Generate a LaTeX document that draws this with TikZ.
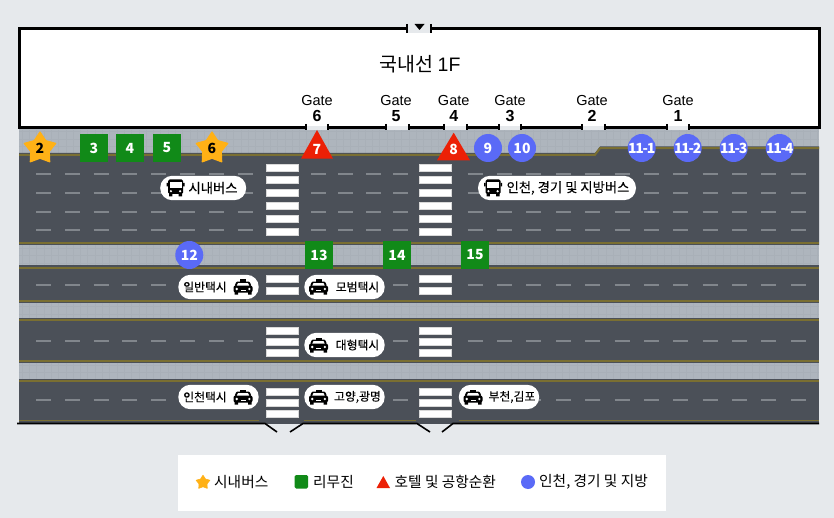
\documentclass[tikz,border=0pt]{standalone}
\usepackage{fontspec}
\setmainfont{Noto Sans CJK KR}
\newfontfamily\medfont[FakeBold=0.25]{Noto Sans CJK KR}
\newfontfamily\latinfont{Liberation Sans}
\usetikzlibrary{shapes.geometric}
\usetikzlibrary{positioning}
\definecolor{pagegray}{HTML}{E6E9EC}
\definecolor{pavegray}{HTML}{AEB5BD}
\definecolor{pavegrid}{HTML}{A9B0B8}
\definecolor{roadgray}{HTML}{4B5058}
\definecolor{dashgray}{HTML}{81868C}
\definecolor{kerbolive}{HTML}{7A6F32}
\definecolor{stopstar}{HTML}{FFB116}
\definecolor{stopgreen}{HTML}{118A18}
\definecolor{stopred}{HTML}{EC2006}
\definecolor{stopblue}{HTML}{5A6AF7}
\tikzstyle{every path}=[line join=miter]
\tikzstyle{wall}=[line width=3pt,black]
\tikzstyle{kerb}=[line width=2pt,kerbolive]
\tikzstyle{lanedash}=[line width=2pt,dashgray]
\tikzstyle{stripe}=[fill=white,draw=white!85!black,line width=0.3pt]
\tikzstyle{gatetext}=[inner sep=0pt,font=\latinfont\fontsize{14.5}{15}\selectfont]
\tikzstyle{gatenum}=[inner sep=0pt,font=\latinfont\bfseries\fontsize{16}{16}\selectfont]
\tikzstyle{stopnum}=[inner sep=0pt,text=white,font=\fontsize{14}{14}\selectfont\bfseries]
\tikzstyle{stopsq}=[stopnum,fill=stopgreen,minimum size=28pt]
\tikzstyle{stopcirc}=[circle,inner sep=0pt,fill=stopblue,minimum size=28pt]
\tikzstyle{stopst}=[inner sep=0pt,star,star points=5,star point ratio=1.7,fill=stopstar,draw=stopstar,line width=1.2pt,line join=round,minimum size=33pt]
\tikzstyle{pill}=[fill=white,rounded corners=12pt,minimum height=24.4pt,inner sep=0pt]
\tikzstyle{pilltext}=[inner sep=0pt,font=\medfont\fontsize{13.3}{14}\selectfont]
\tikzstyle{taxitext}=[inner sep=0pt,font=\medfont\fontsize{11.8}{13}\selectfont]
\tikzstyle{keytext}=[inner sep=0pt,font=\fontsize{14.7}{15}\selectfont,anchor=west]
\tikzset{
  busicon/.pic={
    \fill[rounded corners=1.5pt] (-7.5,-8.5) rectangle (7.5,6);
    \fill (-6.5,5) rectangle (-3.2,8.5) (3.2,5) rectangle (6.5,8.5);
    \fill[white] (-6,-5.5) rectangle (6,0.5);
    \fill[white] (-4.6,3.2) circle (1.2) (4.6,3.2) circle (1.2);
    \fill (-9,-5) rectangle (-7.5,-1.5) (7.5,-5) rectangle (9,-1.5);
  },
  taxiicon/.pic={
    \fill (-3,-7.5) rectangle (3,-5);
    \fill[rounded corners=1pt] (-6.5,-5.5) -- (6.5,-5.5) -- (8.5,-1) -- (-8.5,-1) -- cycle;
    \fill[white] (-5,-4) -- (5,-4) -- (6.3,-1) -- (-6.3,-1) -- cycle;
    \fill[rounded corners=2pt] (-9.5,-1.5) rectangle (9.5,5.5);
    \fill (-8.5,5) rectangle (-5,7.5) (5,5) rectangle (8.5,7.5);
    \fill[white] (-6.3,2) circle (1.3) (6.3,2) circle (1.3);
    \fill[white] (-2.5,3.2) rectangle (2.5,4);
  }
}

\begin{document}
\begin{tikzpicture}[x=1pt,y=-1pt]
  \fill[pagegray] (0,0) rectangle (834,518);
  \useasboundingbox (0,0) rectangle (834,518);

  % building
  \fill[white] (19,28.5) rectangle (819,128);
  \fill[pagegray] (407,24) rectangle (431,33);
  \fill[pavegray] (19,129) rectangle (819,424);
  \draw[pavegrid,line width=0.3pt,xstep=7.3pt,ystep=7.3pt] (19,130) grid (819,424);
  \foreach \a/\b in {306/328,386/409,444/467,499/521,582/605,667/689}
    \fill[pagegray] (\a,126.5) rectangle (\b,130);
  \draw[wall] (407,28.5)--(19,28.5)--(19,128)--(306,128)
    (328,128)--(386,128) (409,128)--(444,128) (467,128)--(499,128)
    (521,128)--(582,128) (605,128)--(667,128) (689,128)--(819,128)--(819,28.5)--(431,28.5);
  \foreach \x in {306,328,386,409,444,467,499,521,582,605,667,689}
    \draw[black,line width=1.8pt] (\x,124) -- (\x,130);
  \foreach \x in {407,431}
    \draw[black,line width=1.8pt] (\x,24) -- (\x,33);
  \fill[black] (414.5,24) -- (424.5,24) -- (419.5,30) -- cycle;
  \node[inner sep=0pt,font=\fontsize{19.5}{20}\selectfont] (title) at (420,64) {국내선 {\latinfont 1F}};
  \foreach \x/\n in {317/6,396/5,453.7/4,510/3,592/2,678/1}{
    \node[gatetext] (gatelabel\n) at (\x,100.5) {Gate};
    \node[gatenum] (gatenum\n) at (\x,116) {\n};
  }

  % roads
  \fill[roadgray] (19,153) -- (595,153) -- (600,146.5) -- (819,146.5) -- (819,245) -- (19,245) -- cycle;
  \fill[roadgray] (19,265.5) rectangle (819,303);
  \fill[roadgray] (19,318) rectangle (819,363);
  \fill[roadgray] (19,378.5) rectangle (819,424);
  \draw[kerb] (19,154.8) -- (595,154.8) -- (600,148.2) -- (819,148.2);
  \foreach \y in {243,268,301,320,361,381}
    \draw[kerb] (19,\y) -- (819,\y);
  \draw[kerbolive,line width=1.2pt] (19,420.5) -- (259,420.5) (304,420.5) -- (416,420.5) (459,420.5) -- (819,420.5);
  \draw[black,line width=1.6pt] (17,423.5) -- (265,423.5) -- (277,432)
    (290,432) -- (303,423.5) -- (417,423.5) -- (430,432)
    (442,432) -- (453,423.5) -- (819,423.5);

  % lane dashes
  \foreach \y in {174.5,193,212,230.5,284.5,341,400}{
    \foreach \i in {0,...,7}
      \draw[lanedash] ({36+28.8*\i},\y) -- ++(15,0);
    \foreach \i in {0,...,11}
      \draw[lanedash] ({467.7+29.37*\i},\y) -- ++(15,0);
  }
  \foreach \y in {174.5,193,212,230.5}
    \foreach \x in {311,338,366}
      \draw[lanedash] (\x,\y) -- ++(15,0);
  \foreach \y in {174.5,193,212,230.5,284.5,341,400}
    \draw[lanedash] (393,\y) -- ++(15,0);

  % crossings
  \foreach \x in {266,419}
    \foreach \y in {163.7,176.6,189.5,202.4,215.3,228.2,274.7,286.7,327,337.8,348.7,388.3,399,409.7}
      \draw[stripe] (\x,\y) rectangle ++(32,7);

  % stops
  \node[stopst] (stop2) at (40,148.5) {};
  \node[stopst] (stop6) at (212,148.5) {};
  \node[inner sep=0pt,font=\fontsize{14}{14}\selectfont\bfseries] (num2) at (40,148) {2};
  \node[inner sep=0pt,font=\fontsize{14}{14}\selectfont\bfseries] (num6) at (212,148) {6};
  \foreach \x/\n in {94/3,130/4,167/5}
    \node[stopsq] (stop\n) at (\x,148) {\n};
  \foreach \x/\n in {319/13,397/14,475/15}
    \node[stopsq] (stop\n) at (\x,255) {\n};
  \fill[stopred] (317,130) -- (333,158.7) -- (301,158.7) -- cycle;
  \fill[stopred] (453.7,132.7) -- (470,160.3) -- (437,160.3) -- cycle;
  \node[stopnum] (stop7) at (317,149) {7};
  \node[stopnum] (stop8) at (453.7,149) {8};
  \foreach \x/\n in {488/9,522/10}{
    \node[stopcirc] (stop\n) at (\x,148) {};
    \node[stopnum] (num\n) at (\x,148) {\n};
  }
  \foreach \x/\n in {641.7/11-1,687.7/11-2,733.7/11-3,779.7/11-4}{
    \node[stopcirc] (stop\n) at (\x,148) {};
    \node[stopnum] (num\n) at (\x,148) {\addfontfeature{LetterSpace=-9}\n};
  }
  \node[stopcirc] (stop12) at (189.3,255) {};
  \node[stopnum] (num12) at (189.3,255) {12};

  % labels on the road
  \node[pill,minimum width=86pt] (citybus) at (203.2,188) {};
  \pic at (175.5,188) {busicon};
  \node[pilltext] (citybustext) at (213,188) {시내버스};
  \node[pill,minimum width=158pt] (regionbus) at (557,188) {};
  \pic at (493,188) {busicon};
  \node[pilltext] (regionbustext) at (568,188) {인천, 경기 및 지방버스};
  \foreach \x/\y/\n/\t in {218.5/287/a/일반택시,218.5/397/b/인천택시}{
    \node[pill,minimum width=80.4pt] (taxi\n) at (\x,\y) {};
    \node[taxitext] (taxitext\n) at (205,\y) {\t};
    \pic at (243,\y) {taxiicon};
  }
  \foreach \x/\y/\n/\t in {344.5/287/c/모범택시,344.5/345/d/대형택시,344.5/397/e/{고양,광명}}{
    \node[pill,minimum width=80.4pt] (taxi\n) at (\x,\y) {};
    \node[taxitext] (taxitext\n) at (357.5,\y) {\t};
    \pic at (318.5,\y) {taxiicon};
  }
  \node[pill,minimum width=80.4pt] (taxif) at (499,397) {};
  \node[taxitext] (taxitextf) at (512,397) {부천,김포};
  \pic at (473,397) {taxiicon};

  % key
  \fill[white] (178,455) rectangle (665.7,511);
  \node[inner sep=0pt,star,star points=5,star point ratio=1.7,fill=stopstar,draw=stopstar,line width=0.6pt,line join=round,minimum size=14.5pt] (keystar) at (203,482.5) {};
  \node[keytext] (keystartext) at (214,482) {시내버스};
  \fill[stopgreen,rounded corners=1.5pt] (294.5,475) rectangle (308,488.5);
  \node[keytext] (keysqtext) at (313,482) {리무진};
  \fill[stopred] (383.3,476) -- (390,488) -- (376.5,488) -- cycle;
  \node[keytext] (keytritext) at (394.5,482) {호텔 및 공항순환};
  \fill[stopblue] (528,482) circle (7);
  \node[keytext] (keycirctext) at (539,482) {인천, 경기 및 지방};
\end{tikzpicture}
\end{document}
